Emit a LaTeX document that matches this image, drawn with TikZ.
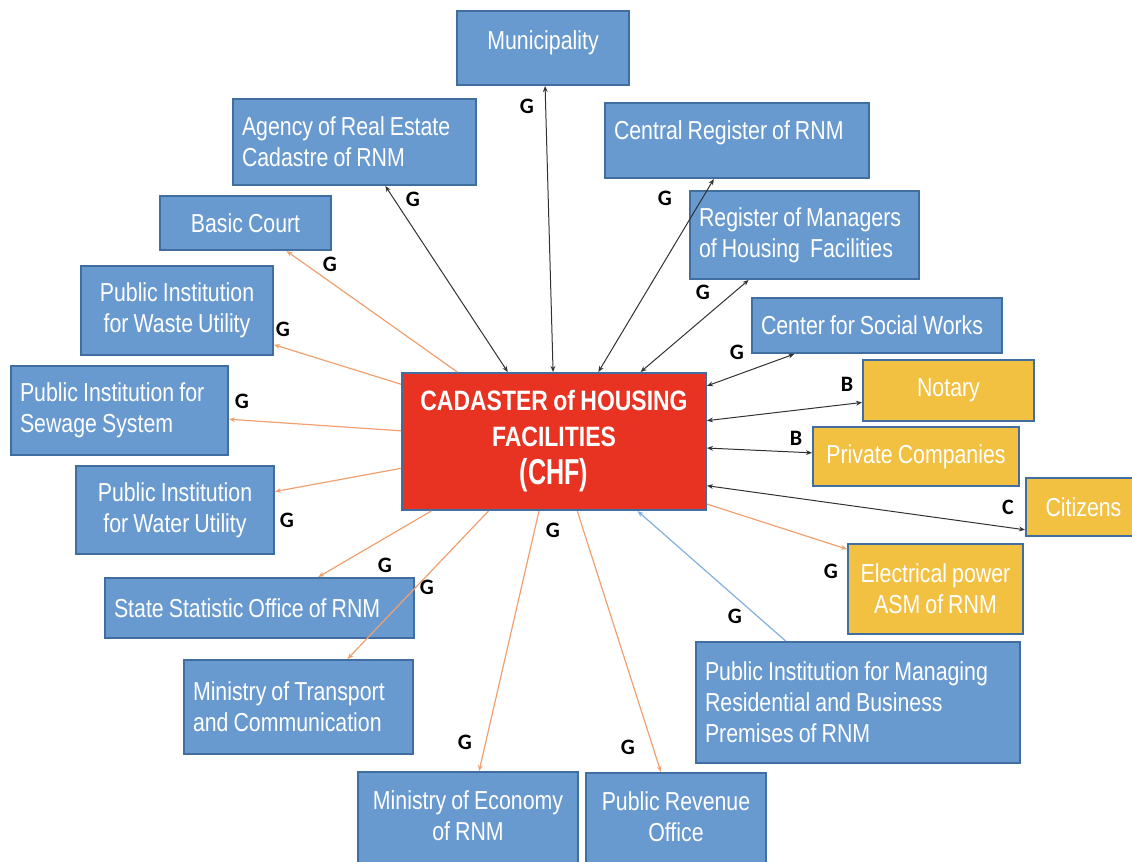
\documentclass[tikz,border=0pt]{standalone}
\usepackage{fontspec}
\setmainfont{Liberation Sans}[FakeStretch=0.82,WordSpace=0.85]
\newfontfamily\lblfont{Carlito}
\usetikzlibrary{arrows.meta,calc}
\definecolor{boxblue}{RGB}{104,154,208}
\definecolor{boxedge}{RGB}{65,110,160}
\definecolor{boxyellow}{RGB}{243,193,66}
\definecolor{boxred}{RGB}{232,50,34}
\definecolor{lineorange}{RGB}{240,160,110}
\definecolor{lineblue}{RGB}{130,175,225}
\definecolor{linedark}{RGB}{50,50,50}
\tikzset{
  box/.style={draw=boxedge, line width=1pt, fill=boxblue, text=white, inner sep=0pt,
    inner xsep=4.5pt, anchor=north west, align=center,
    font=\fontsize{13}{15.5}\selectfont},
  lbox/.style={box, align=flush left},
  ybox/.style={box, fill=boxyellow},
  lbl/.style={font=\lblfont\bfseries\fontsize{11}{13}\selectfont, text=black, inner sep=0pt},
  dlink/.style={draw=linedark, line width=0.5pt, {Stealth[length=3pt,width=2.4pt]}-{Stealth[length=3pt,width=2.4pt]}},
  olink/.style={draw=lineorange, line width=0.6pt, -{Stealth[length=3pt,width=2.4pt]}},
  blink/.style={draw=lineblue, line width=0.6pt, -{Stealth[length=3pt,width=2.4pt]}}
}
\begin{document}
\begin{tikzpicture}[x=0.5pt,y=-0.5pt]
\useasboundingbox (0,0) rectangle (1132,862);
% boxes
\node[box, minimum width=86pt, minimum height=37pt, text depth=7.5pt] (muni) at (456,10) {Municipality};
\node[lbox, text width=112.5pt, minimum height=43pt] (agency) at (232,98) {Agency of Real Estate\\Cadastre of RNM};
\node[lbox, text width=123pt, minimum height=37.5pt, text depth=10pt] (central) at (604,102) {Central Register of RNM};
\node[lbox, text width=105.5pt, minimum height=44pt] (regman) at (689,190) {Register of Managers\\of Housing\ \ Facilities};
\node[box, minimum width=85.5pt, minimum height=27pt] (court) at (159,195) {Basic Court};
\node[lbox, text width=116pt, minimum height=27.5pt] (social) at (751,297) {Center for Social Works};
\node[box, minimum width=96pt, minimum height=44.5pt] (waste) at (80,265) {Public Institution\\for Waste Utility};
\node[lbox, text width=99.5pt, minimum height=44.5pt] (sewage) at (10,365) {Public Institution for\\Sewage System};
\node[box, fill=boxred, minimum width=152pt, minimum height=68.5pt,
  font=\bfseries\fontsize{14}{18}\selectfont] (chf) at (401,372)
  {CADASTER of HOUSING\\FACILITIES\\[1pt]{\fontsize{18}{20}\selectfont\scalebox{0.85}[1]{(CHF)}}};
\node[ybox, minimum width=85.5pt, minimum height=30.5pt] (notary) at (862,359) {Notary};
\node[ybox, minimum width=103pt, minimum height=29.5pt] (private) at (812,426) {Private Companies};
\node[ybox, minimum width=57.5pt, minimum height=29pt] (citizens) at (1025,477) {Citizens};
\node[box, minimum width=99pt, minimum height=44pt] (water) at (75,465) {Public Institution\\for Water Utility};
\node[ybox, minimum width=87.5pt, minimum height=45pt] (elec) at (847,543) {Electrical power\\ASM of RNM};
\node[lbox, text width=145.5pt, minimum height=30pt] (stat) at (104,577) {State Statistic Office of RNM};
\node[lbox, text width=105.5pt, minimum height=47pt] (transport) at (183,659) {Ministry of Transport\\and Communication};
\node[lbox, text width=153pt, minimum height=60.5pt] (managing) at (695,641) {Public Institution for Managing\\Residential and Business\\Premises of RNM};
\node[box, minimum width=110pt, minimum height=50pt, text depth=6pt] (economy) at (357,771) {Ministry of Economy\\of RNM};
\node[box, minimum width=90pt, minimum height=50pt, text depth=6pt] (revenue) at (585,772) {Public Revenue\\Office};
% two-way links
\draw[dlink] ($(chf.north west)!0.497!(chf.north east)$) -- ($(muni.south west)!0.512!(muni.south east)$);
\draw[dlink] ($(chf.north west)!0.349!(chf.north east)$) -- ($(agency.south west)!0.626!(agency.south east)$);
\draw[dlink] ($(chf.north west)!0.645!(chf.north east)$) -- ($(central.south west)!0.413!(central.south east)$);
\draw[dlink] ($(chf.north west)!0.783!(chf.north east)$) -- ($(regman.south west)!0.258!(regman.south east)$);
\draw[dlink] ($(chf.north east)!0.10!(chf.south east)$) -- ($(social.south west)!0.172!(social.south east)$);
\draw[dlink] ($(chf.north east)!0.35!(chf.south east)$) -- ($(notary.north west)!0.69!(notary.south west)$);
\draw[dlink] ($(chf.north east)!0.547!(chf.south east)$) -- ($(private.north west)!0.44!(private.south west)$);
\draw[dlink] ($(chf.north east)!0.818!(chf.south east)$) -- ($(citizens.north west)!0.88!(citizens.south west)$);
% one-way links
\draw[olink] ($(chf.north east)!0.95!(chf.south east)$) -- ($(elec.north west)!0.067!(elec.south west)$);
\draw[blink] ($(managing.north west)!0.278!(managing.north east)$) -- ($(chf.south west)!0.773!(chf.south east)$);
\draw[olink] ($(chf.south west)!0.576!(chf.south east)$) -- ($(revenue.north west)!0.417!(revenue.north east)$);
\draw[olink] ($(chf.south west)!0.451!(chf.south east)$) -- ($(economy.north west)!0.55!(economy.north east)$);
\draw[olink] ($(chf.south west)!0.286!(chf.south east)$) -- ($(transport.north west)!0.712!(transport.north east)$);
\draw[olink] ($(chf.south west)!0.099!(chf.south east)$) -- ($(stat.north west)!0.689!(stat.north east)$);
\draw[olink] ($(chf.north west)!0.693!(chf.south west)$) -- ($(water.north east)!0.295!(water.south east)$);
\draw[olink] ($(chf.north west)!0.423!(chf.south west)$) -- ($(sewage.north east)!0.596!(sewage.south east)$);
\draw[olink] ($(chf.north west)!0.088!(chf.south west)$) -- ($(waste.north east)!0.876!(waste.south east)$);
\draw[olink] ($(chf.north west)!0.184!(chf.north east)$) -- ($(court.south west)!0.737!(court.south east)$);
% labels
\node[lbl] (g1) at (527,106) {G};
\node[lbl] (g2) at (413,199) {G};
\node[lbl] (g3) at (665,198) {G};
\node[lbl] (g4) at (703,292) {G};
\node[lbl] (g5) at (330,264) {G};
\node[lbl] (g6) at (283,329) {G};
\node[lbl] (g7) at (242,401) {G};
\node[lbl] (g8) at (287,520) {G};
\node[lbl] (g9) at (737,352) {G};
\node[lbl] (b1) at (847,384) {B};
\node[lbl] (b2) at (796,438) {B};
\node[lbl] (c1) at (1008,507) {C};
\node[lbl] (g10) at (831,571) {G};
\node[lbl] (g11) at (735,616) {G};
\node[lbl] (g12) at (553,530) {G};
\node[lbl] (g13) at (385,565) {G};
\node[lbl] (g14) at (427,587) {G};
\node[lbl] (g15) at (465,742) {G};
\node[lbl] (g16) at (628,747) {G};
\end{tikzpicture}
\end{document}
